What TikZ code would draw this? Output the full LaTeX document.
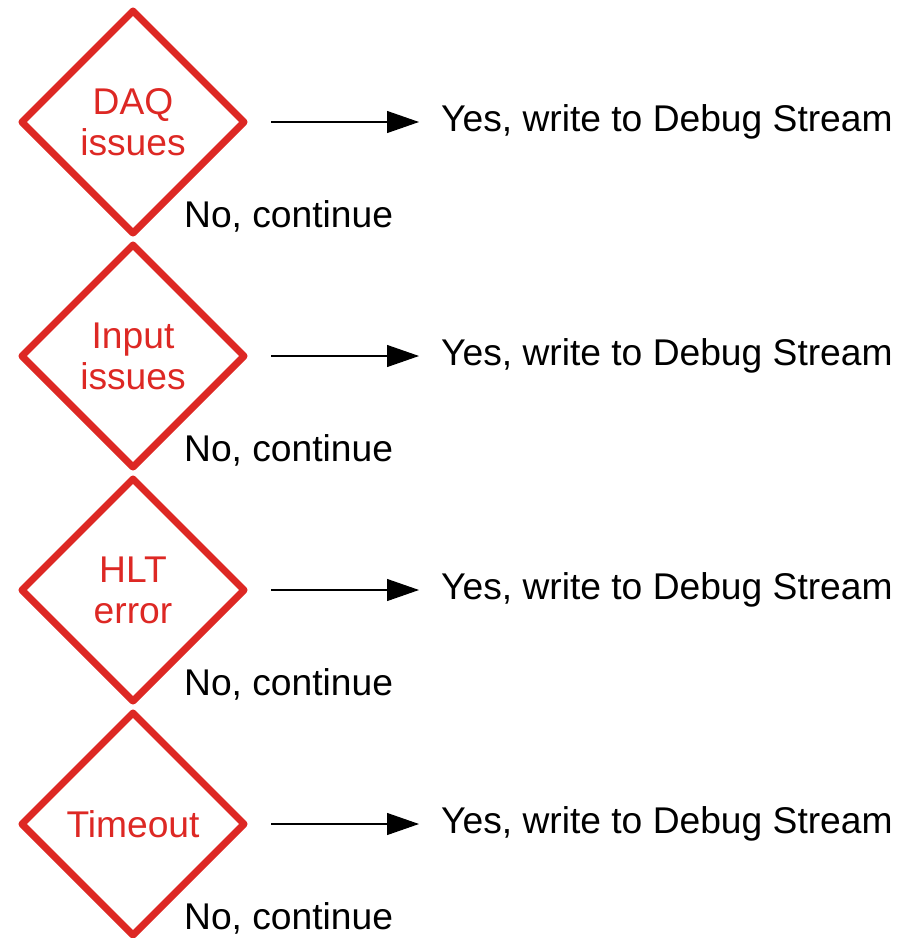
\documentclass[tikz,border=0pt]{standalone}
\usepackage{fontspec}
\setmainfont{Liberation Sans}
\usetikzlibrary{shapes.geometric,arrows.meta}
\definecolor{decred}{RGB}{221,40,36}
\tikzset{
  check/.style={shape=diamond, draw=decred, line width=7pt, line join=round,
    minimum width=225pt, minimum height=225pt, inner sep=0pt,
    text=decred, align=center, font=\fontsize{37.2}{41}\selectfont},
  yeslabel/.style={anchor=west, inner sep=0pt, font=\fontsize{37.2}{41}\selectfont},
  nolabel/.style={anchor=base west, inner sep=0pt, font=\fontsize{37.2}{41}\selectfont},
  yesarrow/.style={draw=black, line width=1.1pt,
    -{Triangle[length=32pt,width=22pt]}, shorten <=22pt, shorten >=22pt}
}
\begin{document}
\begin{tikzpicture}[x=1pt,y=-1pt]
  \useasboundingbox (0,0) rectangle (898,938);
  \clip (0,0) rectangle (898,938);
  \foreach \i/\txt/\yy in {1/{DAQ\\issues}/122, 2/{Input\\issues}/356,
                           3/{HLT\\error}/590, 4/{Timeout}/824} {
    \node[check] (d\i) at (133,\yy) {\txt};
    \node[yeslabel] (y\i) at (441,\yy) {Yes, write to Debug Stream};
    \node[nolabel] (n\i) at (184,\yy+105) {No, continue};
    \draw[yesarrow] (d\i.east) -- (y\i.west);
  }
\end{tikzpicture}
\end{document}
